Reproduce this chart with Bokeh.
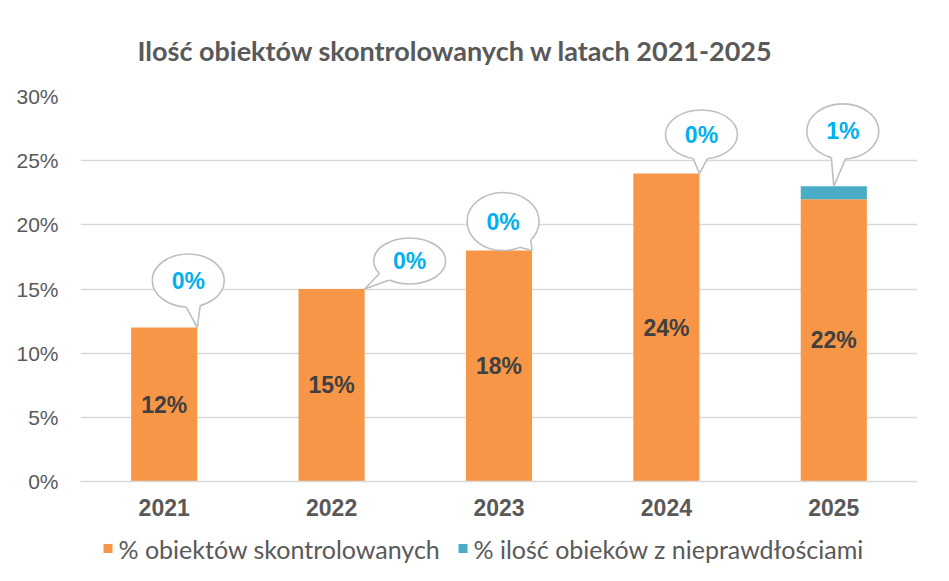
import numpy as np
from bokeh.plotting import figure
from bokeh.layouts import column
from bokeh.models import Range1d, FixedTicker, NumeralTickFormatter, Title
from bokeh.core.properties import value
from bokeh.embed import file_html
from bokeh.resources import INLINE

# ---- data ----
years = ["2021", "2022", "2023", "2024", "2025"]
skontrolowane = [0.12, 0.15, 0.18, 0.24, 0.22]
nieprawidlowosci = [0.00, 0.00, 0.00, 0.00, 0.01]
bar_labels = ["12%", "15%", "18%", "24%", "22%"]
callout_labels = ["0%", "0%", "0%", "0%", "1%"]
series_names = ["% obiektów skontrolowanych", "% ilość obieków z nieprawdłościami"]
y_ticks = [0.0, 0.05, 0.10, 0.15, 0.20, 0.25, 0.30]

# ---- layout / style constants ----
ORANGE = "#F79646"
BLUE = "#4BACC6"
GRID = "#D9D9D9"
TEXT = "#595959"
FRAME_W, FRAME_H = 837, 385
ML, MR, MT, MB = 80, 24, 96, 50
TOTAL_W = ML + FRAME_W + MR
LEG_H = 40
leg_marker_x = [107.5, 462.5]   # legend layout (page px)
leg_text_x = [118, 473]
leg_y = 23
BAR_W = 0.395
PX_X = FRAME_W / 5.0
PX_Y = FRAME_H / 0.30

# callout bubble placement (px offsets of bubble centre from tail tip, y up)
bub_dx = [-9, 45, -29, 2, 9]
bub_dy = [47, 28, 29, 39, 55]
bub_h = [53, 46, 58, 49, 55]
bub_w = 72
tip_anchor = [1, 1, 1, 1, 0]   # 1 = right edge of bar, 0 = centre

xs = np.arange(len(years), dtype=float)
orange = np.array(skontrolowane)
blue = np.array(nieprawidlowosci)
total = orange + blue

p = figure(frame_width=FRAME_W, frame_height=FRAME_H, output_backend="svg", toolbar_location=None,
           x_range=Range1d(-0.5, 4.5), y_range=Range1d(0, 0.30),
           min_border_left=ML, min_border_right=MR, min_border_top=MT,
           min_border_bottom=MB, outline_line_color=None)

p.add_layout(Title(text="Ilość obiektów skontrolowanych w latach 2021-2025",
                   text_font="Lato", text_font_size="27px", text_font_style="bold",
                   text_color=TEXT, align="left", offset=57, standoff=59), "above")

p.vbar(x=xs, top=orange, width=BAR_W, fill_color=ORANGE, line_color=None)
p.vbar(x=xs, bottom=orange, top=total, width=BAR_W, fill_color=BLUE, line_color=None)

# bar value labels
p.text(x=xs, y=orange / 2, text=bar_labels, text_font=value("Liberation Sans"),
       text_font_style="bold", text_font_size="23px", text_color="#404040",
       text_align="center", text_baseline="middle")

# callouts
tx = xs + np.array(tip_anchor) * BAR_W / 2
ty = total
cx = tx + np.array(bub_dx) / PX_X
cy = ty + np.array(bub_dy) / PX_Y
b1x, b1y, b2x, b2y, cover_x, cover_y = [], [], [], [], [], []
a = bub_w / 2
for i in range(len(xs)):
    b = bub_h[i] / 2
    tdx, tdy = -bub_dx[i], -bub_dy[i]
    phi = np.arctan2(tdy / b, tdx / a)
    pts = []
    for d in (-0.2, 0.2):
        pts.append((a * np.cos(phi + d), b * np.sin(phi + d)))
    (p1x, p1y), (p2x, p2y) = pts
    b1x.append(cx[i] + p1x / PX_X); b1y.append(cy[i] + p1y / PX_Y)
    b2x.append(cx[i] + p2x / PX_X); b2y.append(cy[i] + p2y / PX_Y)
    k = 1.35
    i1x = tdx + k * (p1x - tdx); i1y = tdy + k * (p1y - tdy)
    i2x = tdx + k * (p2x - tdx); i2y = tdy + k * (p2y - tdy)
    cover_x.append([tx[i], cx[i] + i1x / PX_X, cx[i] + i2x / PX_X])
    cover_y.append([ty[i], cy[i] + i1y / PX_Y, cy[i] + i2y / PX_Y])

p.ellipse(x=cx, y=cy, width=bub_w, height=bub_h, width_units="screen",
          height_units="screen", fill_color="white", line_color="#BFBFBF", line_width=1.6)
p.patches(xs=cover_x, ys=cover_y, fill_color="white", line_color=None)
p.segment(x0=tx, y0=ty, x1=b1x, y1=b1y, line_color="#BFBFBF", line_width=1.6)
p.segment(x0=tx, y0=ty, x1=b2x, y1=b2y, line_color="#BFBFBF", line_width=1.6)
p.text(x=cx, y=cy, text=callout_labels, text_font=value("Liberation Sans"),
       text_font_style="bold", text_font_size="23px", text_color="#00B0F0",
       text_align="center", text_baseline="middle")

# axes
p.xaxis.ticker = FixedTicker(ticks=list(xs))
p.xaxis.major_label_overrides = {int(i): y for i, y in enumerate(years)}
p.xaxis.major_label_text_font = "Liberation Sans"
p.xaxis.major_label_text_font_style = "bold"
p.xaxis.major_label_text_font_size = "23px"
p.xaxis.major_label_text_color = TEXT
p.xaxis.axis_line_color = GRID
p.xaxis.axis_line_width = 1.6
p.xaxis.major_tick_line_color = None
p.xaxis.minor_tick_line_color = None
p.xaxis.major_tick_out = 0
p.xaxis.minor_tick_out = 0
p.xaxis.major_label_standoff = 17

p.yaxis.ticker = FixedTicker(ticks=y_ticks)
p.yaxis.formatter = NumeralTickFormatter(format="0%")
p.yaxis.major_label_text_font = "Liberation Sans"
p.yaxis.major_label_text_font_size = "21px"
p.yaxis.major_label_text_color = TEXT
p.yaxis.axis_line_color = None
p.yaxis.major_tick_line_color = None
p.yaxis.minor_tick_line_color = None
p.yaxis.major_tick_out = 0
p.yaxis.minor_tick_out = 0
p.yaxis.major_label_standoff = 22

p.xgrid.grid_line_color = None
p.ygrid.grid_line_color = GRID
p.ygrid.grid_line_width = 1.6

# legend strip (separate small figure below the chart; its frame aligns with the chart frame)
q = figure(width=TOTAL_W, height=LEG_H, output_backend="svg", toolbar_location=None,
           x_range=Range1d(ML, ML + FRAME_W), y_range=Range1d(0, LEG_H),
           x_axis_type=None, y_axis_type=None, outline_line_color=None,
           min_border_left=0, min_border_right=0, min_border_top=0, min_border_bottom=0)
q.xgrid.grid_line_color = None
q.ygrid.grid_line_color = None
q.rect(x=leg_marker_x, y=[leg_y, leg_y], width=9, height=9, width_units="screen",
       height_units="screen", fill_color=[ORANGE, BLUE], line_color=None)
q.text(x=leg_text_x, y=[leg_y, leg_y], text=series_names, text_font=value("Lato"),
       text_font_size="25px", text_color=TEXT, text_align="left", text_baseline="middle")

layout = column(p, q, spacing=0)
open("out.html", "w").write(file_html(layout, INLINE))
